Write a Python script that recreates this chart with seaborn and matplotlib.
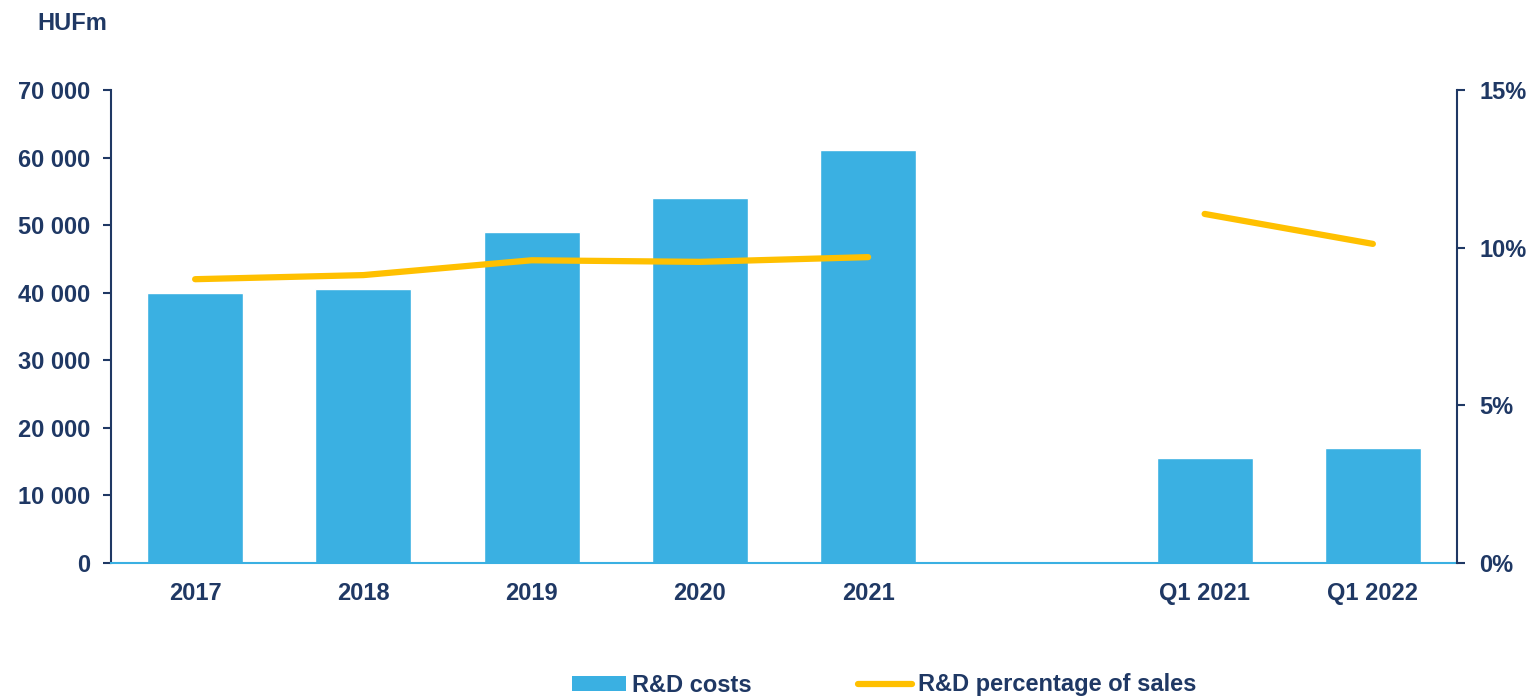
import matplotlib
matplotlib.use("Agg")
import matplotlib.pyplot as plt
from matplotlib.patches import Patch
from matplotlib.lines import Line2D
import seaborn as sns
import pandas as pd

# Periods shown on the x axis; the empty slot separates annual and quarterly figures
periods = ["2017", "2018", "2019", "2020", "2021", "", "Q1 2021", "Q1 2022"]

# R&D costs (HUFm)
cost_periods = ["2017", "2018", "2019", "2020", "2021", "Q1 2021", "Q1 2022"]
rd_costs = [39900, 40600, 49000, 54000, 61100, 15500, 17000]

# R&D costs as percentage of sales
annual_periods = ["2017", "2018", "2019", "2020", "2021"]
annual_pct = [9.0, 9.13, 9.6, 9.55, 9.7]
quarter_periods = ["Q1 2021", "Q1 2022"]
quarter_pct = [11.07, 10.12]

left_ticks = [0, 10000, 20000, 30000, 40000, 50000, 60000, 70000]
right_ticks = [0, 5, 10, 15]

NAVY = "#1F3864"
BLUE = "#3AB0E2"
GOLD = "#FFC000"
FS = 17

sns.set_theme(style="white")
plt.rcParams["font.family"] = ["Liberation Sans", "DejaVu Sans"]
plt.rcParams["font.weight"] = "bold"

fig = plt.figure(figsize=(15.32, 6.98), dpi=100)
ax = fig.add_axes([111 / 1532, 1 - 563 / 698, (1457 - 111) / 1532, (563 - 90) / 698])

df = pd.DataFrame({"period": cost_periods, "cost": rd_costs})
sns.barplot(data=df, x="period", y="cost", order=periods, color=BLUE,
            saturation=1, width=0.57, ax=ax, zorder=2)

ax.set_xlim(-0.5, len(periods) - 0.5)
ax.set_ylim(0, 70000)
ax.set_yticks(left_ticks)
ax.set_yticklabels([f"{v:,}".replace(",", " ") for v in left_ticks])
ax.set_xlabel("")
ax.set_ylabel("")

for s in ["top", "right"]:
    ax.spines[s].set_visible(False)
ax.spines["left"].set_color(NAVY)
ax.spines["left"].set_linewidth(1.5)
ax.spines["bottom"].set_color(BLUE)
ax.spines["bottom"].set_linewidth(1.5)

ax.tick_params(axis="y", which="major", left=True, length=6, width=1.5,
               color=NAVY, pad=9, labelsize=FS, labelcolor=NAVY)
ax.tick_params(axis="x", length=0, pad=14, labelsize=FS, labelcolor=NAVY)
for lab in ax.get_xticklabels() + ax.get_yticklabels():
    lab.set_fontweight("bold")

# Secondary axis for the percentage line
ax2 = ax.twinx()
pos = {p: i for i, p in enumerate(periods)}
for per, vals in [(annual_periods, annual_pct), (quarter_periods, quarter_pct)]:
    sns.lineplot(x=[pos[p] for p in per], y=vals, ax=ax2, color=GOLD,
                 linewidth=4.5, solid_capstyle="round", sort=False, zorder=3)
ax2.set_ylim(0, 15)
ax2.set_yticks(right_ticks)
ax2.set_yticklabels([f"{v}%" for v in right_ticks])
ax2.set_ylabel("")
for s in ["top", "left", "bottom"]:
    ax2.spines[s].set_visible(False)
ax2.spines["right"].set_color(NAVY)
ax2.spines["right"].set_linewidth(1.5)
ax2.tick_params(axis="y", right=True, length=6, width=1.5, color=NAVY,
                pad=10, labelsize=FS, labelcolor=NAVY)
for lab in ax2.get_yticklabels():
    lab.set_fontweight("bold")

fig.text(37 / 1532, 1 - 23 / 698, "HUFm", fontsize=FS, color=NAVY,
         fontweight="bold", va="center", ha="left")

handles = [Patch(facecolor=BLUE, edgecolor="none"),
           Line2D([0], [0], color=GOLD, linewidth=4.5, solid_capstyle="round")]
leg = fig.legend(handles, ["R&D costs", "R&D percentage of sales"],
                 loc="center", bbox_to_anchor=(0.577, 1 - 685 / 698), ncol=2,
                 frameon=False, fontsize=FS, handlelength=2.3, handleheight=0.6,
                 handletextpad=0.25, columnspacing=4.5, borderaxespad=0)
for t in leg.get_texts():
    t.set_color(NAVY)
    t.set_fontweight("bold")

fig.savefig("out.png", dpi=100)
